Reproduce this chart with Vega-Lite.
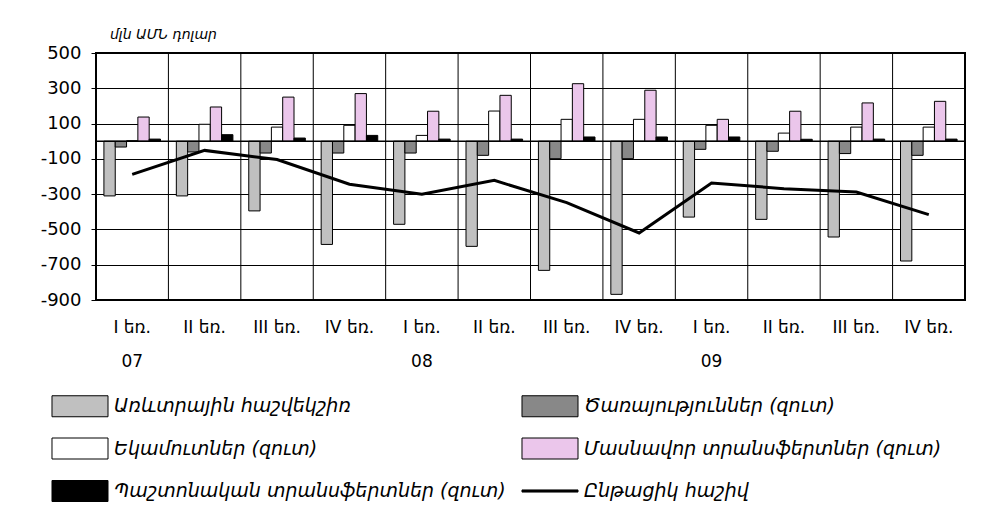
{
  "$schema": "https://vega.github.io/schema/vega-lite/v6.json",
  "width": 869,
  "height": 247,
  "padding": {"left": 40, "top": 28, "right": 20, "bottom": 0},
  "background": "white",
  "title": {
    "text": "մլն ԱՄՆ դոլար",
    "anchor": "start",
    "frame": "group",
    "dx": 14,
    "offset": 2,
    "font": "DejaVu Sans",
    "fontSize": 14,
    "fontStyle": "italic",
    "fontWeight": "normal",
    "color": "black"
  },
  "datasets": {
    "bars": [
      {"q": "I եռ. 07", "series": "Առևտրային հաշվեկշիռ", "value": -310},
      {"q": "I եռ. 07", "series": "Ծառայություններ (զուտ)", "value": -33},
      {"q": "I եռ. 07", "series": "Եկամուտներ (զուտ)", "value": 3},
      {"q": "I եռ. 07", "series": "Մասնավոր տրանսֆերտներ (զուտ)", "value": 137},
      {"q": "I եռ. 07", "series": "Պաշտոնական տրանսֆերտներ (զուտ)", "value": 12},
      {"q": "II եռ. 07", "series": "Առևտրային հաշվեկշիռ", "value": -310},
      {"q": "II եռ. 07", "series": "Ծառայություններ (զուտ)", "value": -61},
      {"q": "II եռ. 07", "series": "Եկամուտներ (զուտ)", "value": 96},
      {"q": "II եռ. 07", "series": "Մասնավոր տրանսֆերտներ (զուտ)", "value": 194},
      {"q": "II եռ. 07", "series": "Պաշտոնական տրանսֆերտներ (զուտ)", "value": 37},
      {"q": "III եռ. 07", "series": "Առևտրային հաշվեկշիռ", "value": -395},
      {"q": "III եռ. 07", "series": "Ծառայություններ (զուտ)", "value": -67},
      {"q": "III եռ. 07", "series": "Եկամուտներ (զուտ)", "value": 80},
      {"q": "III եռ. 07", "series": "Մասնավոր տրանսֆերտներ (զուտ)", "value": 250},
      {"q": "III եռ. 07", "series": "Պաշտոնական տրանսֆերտներ (զուտ)", "value": 18},
      {"q": "IV եռ. 07", "series": "Առևտրային հաշվեկշիռ", "value": -585},
      {"q": "IV եռ. 07", "series": "Ծառայություններ (զուտ)", "value": -67},
      {"q": "IV եռ. 07", "series": "Եկամուտներ (զուտ)", "value": 90},
      {"q": "IV եռ. 07", "series": "Մասնավոր տրանսֆերտներ (զուտ)", "value": 270},
      {"q": "IV եռ. 07", "series": "Պաշտոնական տրանսֆերտներ (զուտ)", "value": 33},
      {"q": "I եռ. 08", "series": "Առևտրային հաշվեկշիռ", "value": -471},
      {"q": "I եռ. 08", "series": "Ծառայություններ (զուտ)", "value": -67},
      {"q": "I եռ. 08", "series": "Եկամուտներ (զուտ)", "value": 33},
      {"q": "I եռ. 08", "series": "Մասնավոր տրանսֆերտներ (զուտ)", "value": 170},
      {"q": "I եռ. 08", "series": "Պաշտոնական տրանսֆերտներ (զուտ)", "value": 12},
      {"q": "II եռ. 08", "series": "Առևտրային հաշվեկշիռ", "value": -596},
      {"q": "II եռ. 08", "series": "Ծառայություններ (զուտ)", "value": -80},
      {"q": "II եռ. 08", "series": "Եկամուտներ (զուտ)", "value": 171},
      {"q": "II եռ. 08", "series": "Մասնավոր տրանսֆերտներ (զուտ)", "value": 260},
      {"q": "II եռ. 08", "series": "Պաշտոնական տրանսֆերտներ (զուտ)", "value": 12},
      {"q": "III եռ. 08", "series": "Առևտրային հաշվեկշիռ", "value": -732},
      {"q": "III եռ. 08", "series": "Ծառայություններ (զուտ)", "value": -99},
      {"q": "III եռ. 08", "series": "Եկամուտներ (զուտ)", "value": 124},
      {"q": "III եռ. 08", "series": "Մասնավոր տրանսֆերտներ (զուտ)", "value": 326},
      {"q": "III եռ. 08", "series": "Պաշտոնական տրանսֆերտներ (զուտ)", "value": 24},
      {"q": "IV եռ. 08", "series": "Առևտրային հաշվեկշիռ", "value": -868},
      {"q": "IV եռ. 08", "series": "Ծառայություններ (զուտ)", "value": -99},
      {"q": "IV եռ. 08", "series": "Եկամուտներ (զուտ)", "value": 124},
      {"q": "IV եռ. 08", "series": "Մասնավոր տրանսֆերտներ (զուտ)", "value": 289},
      {"q": "IV եռ. 08", "series": "Պաշտոնական տրանսֆերտներ (զուտ)", "value": 24},
      {"q": "I եռ. 09", "series": "Առևտրային հաշվեկշիռ", "value": -430},
      {"q": "I եռ. 09", "series": "Ծառայություններ (զուտ)", "value": -46},
      {"q": "I եռ. 09", "series": "Եկամուտներ (զուտ)", "value": 90},
      {"q": "I եռ. 09", "series": "Մասնավոր տրանսֆերտներ (զուտ)", "value": 124},
      {"q": "I եռ. 09", "series": "Պաշտոնական տրանսֆերտներ (զուտ)", "value": 24},
      {"q": "II եռ. 09", "series": "Առևտրային հաշվեկշիռ", "value": -443},
      {"q": "II եռ. 09", "series": "Ծառայություններ (զուտ)", "value": -57},
      {"q": "II եռ. 09", "series": "Եկամուտներ (զուտ)", "value": 46},
      {"q": "II եռ. 09", "series": "Մասնավոր տրանսֆերտներ (զուտ)", "value": 170},
      {"q": "II եռ. 09", "series": "Պաշտոնական տրանսֆերտներ (զուտ)", "value": 11},
      {"q": "III եռ. 09", "series": "Առևտրային հաշվեկշիռ", "value": -543},
      {"q": "III եռ. 09", "series": "Ծառայություններ (զուտ)", "value": -70},
      {"q": "III եռ. 09", "series": "Եկամուտներ (զուտ)", "value": 80},
      {"q": "III եռ. 09", "series": "Մասնավոր տրանսֆերտներ (զուտ)", "value": 217},
      {"q": "III եռ. 09", "series": "Պաշտոնական տրանսֆերտներ (զուտ)", "value": 12},
      {"q": "IV եռ. 09", "series": "Առևտրային հաշվեկշիռ", "value": -679},
      {"q": "IV եռ. 09", "series": "Ծառայություններ (զուտ)", "value": -80},
      {"q": "IV եռ. 09", "series": "Եկամուտներ (զուտ)", "value": 80},
      {"q": "IV եռ. 09", "series": "Մասնավոր տրանսֆերտներ (զուտ)", "value": 226},
      {"q": "IV եռ. 09", "series": "Պաշտոնական տրանսֆերտներ (զուտ)", "value": 12}
    ],
    "line": [
      {"q": "I եռ. 07", "series": "Ընթացիկ հաշիվ", "value": -188},
      {"q": "II եռ. 07", "series": "Ընթացիկ հաշիվ", "value": -52},
      {"q": "III եռ. 07", "series": "Ընթացիկ հաշիվ", "value": -104},
      {"q": "IV եռ. 07", "series": "Ընթացիկ հաշիվ", "value": -244},
      {"q": "I եռ. 08", "series": "Ընթացիկ հաշիվ", "value": -301},
      {"q": "II եռ. 08", "series": "Ընթացիկ հաշիվ", "value": -222},
      {"q": "III եռ. 08", "series": "Ընթացիկ հաշիվ", "value": -348},
      {"q": "IV եռ. 08", "series": "Ընթացիկ հաշիվ", "value": -520},
      {"q": "I եռ. 09", "series": "Ընթացիկ հաշիվ", "value": -237},
      {"q": "II եռ. 09", "series": "Ընթացիկ հաշիվ", "value": -269},
      {"q": "III եռ. 09", "series": "Ընթացիկ հաշիվ", "value": -288},
      {"q": "IV եռ. 09", "series": "Ընթացիկ հաշիվ", "value": -416}
    ],
    "zero": [{"value": 0}]
  },
  "layer": [
    {
      "data": {"name": "bars"},
      "mark": {"type": "bar", "strokeWidth": 1},
      "encoding": {
        "x": {
          "field": "q",
          "type": "nominal",
          "sort": null,
          "title": null,
          "scale": {"paddingInner": 0, "paddingOuter": 0},
          "axis": {
            "domain": false,
            "ticks": false,
            "grid": false,
            "labelAngle": 0,
            "labelFont": "DejaVu Sans",
            "labelFontSize": 17,
            "labelColor": "black",
            "labelPadding": 27,
            "labelLineHeight": 34,
            "labelBaseline": "middle",
            "labelExpr": "test(/^I /, datum.value) ? [replace(datum.value, / \\d\\d$/, ''), slice(datum.value, -2)] : replace(datum.value, / \\d\\d$/, '')"
          }
        },
        "xOffset": {
          "field": "series",
          "type": "nominal",
          "sort": ["Առևտրային հաշվեկշիռ", "Ծառայություններ (զուտ)", "Եկամուտներ (զուտ)", "Մասնավոր տրանսֆերտներ (զուտ)", "Պաշտոնական տրանսֆերտներ (զուտ)"],
          "scale": {"paddingInner": 0, "paddingOuter": 0.7}
        },
        "y": {
          "field": "value",
          "type": "quantitative",
          "title": null,
          "scale": {"domain": [-900, 500], "nice": false, "zero": false},
          "axis": {
            "values": [-900, -700, -500, -300, -100, 100, 300, 500],
            "labelOverlap": false,
            "domainColor": "black",
            "tickSize": 5,
            "tickColor": "black",
            "grid": true,
            "gridColor": "black",
            "gridWidth": 1,
            "gridOpacity": 1,
            "labelFont": "DejaVu Sans",
            "labelFontSize": 18,
            "labelColor": "black",
            "labelPadding": 10,
            "labelExpr": "datum.value + ''"
          }
        },
        "fill": {
          "field": "series",
          "type": "nominal",
          "scale": {
            "domain": ["Առևտրային հաշվեկշիռ", "Ծառայություններ (զուտ)", "Եկամուտներ (զուտ)", "Մասնավոր տրանսֆերտներ (զուտ)", "Պաշտոնական տրանսֆերտներ (զուտ)", "Ընթացիկ հաշիվ"],
            "range": ["#c0c0c0", "#888888", "#ffffff", "#ebc6eb", "#000000", "#000000"]
          },
          "legend": {
            "title": null,
            "orient": "none",
            "legendX": -27,
            "legendY": 342,
            "direction": "horizontal",
            "columns": 2,
            "columnPadding": 13,
            "rowPadding": 16.5,
            "padding": 0,
            "symbolSize": 441,
            "symbolType": "M-2.667,-1H2.667V1H-2.667Z",
            "symbolStrokeWidth": 1,
            "symbolOpacity": 1,
            "labelOffset": 23,
            "labelFont": "DejaVu Sans",
            "labelFontSize": 19,
            "labelFontStyle": "italic",
            "labelColor": "black",
            "labelLimit": 600,
            "encode": {
              "symbols": {
                "update": {
                  "shape": {"signal": "datum.value === 'Ընթացիկ հաշիվ' ? 'M-2.667,-0.1H2.667V0.1H-2.667Z' : 'M-2.667,-1H2.667V1H-2.667Z'"}
                }
              }
            }
          }
        },
        "stroke": {
          "field": "series",
          "type": "nominal",
          "scale": {
            "domain": ["Առևտրային հաշվեկշիռ", "Ծառայություններ (զուտ)", "Եկամուտներ (զուտ)", "Մասնավոր տրանսֆերտներ (զուտ)", "Պաշտոնական տրանսֆերտներ (զուտ)", "Ընթացիկ հաշիվ"],
            "range": ["#000000", "#000000", "#000000", "#000000", "#000000", "#000000"]
          },
          "legend": {
            "title": null,
            "orient": "none",
            "legendX": -27,
            "legendY": 342,
            "direction": "horizontal",
            "columns": 2,
            "columnPadding": 13,
            "rowPadding": 16.5,
            "padding": 0,
            "symbolSize": 441,
            "symbolType": "M-2.667,-1H2.667V1H-2.667Z",
            "symbolStrokeWidth": 1,
            "symbolOpacity": 1,
            "labelOffset": 23,
            "labelFont": "DejaVu Sans",
            "labelFontSize": 19,
            "labelFontStyle": "italic",
            "labelColor": "black",
            "labelLimit": 600
          }
        }
      }
    },
    {
      "data": {"name": "line"},
      "mark": {"type": "rule", "color": "black", "strokeWidth": 1},
      "encoding": {
        "x": {"field": "q", "type": "nominal", "bandPosition": 0, "sort": null}
      }
    },
    {
      "data": {"name": "zero"},
      "mark": {"type": "rule", "color": "black", "strokeWidth": 1.5},
      "encoding": {
        "y": {
          "field": "value",
          "type": "quantitative",
          "axis": {
            "values": [-900, -700, -500, -300, -100, 100, 300, 500],
            "labelOverlap": false,
            "labelFont": "DejaVu Sans",
            "labelFontSize": 18,
            "labelPadding": 10,
            "labelExpr": "datum.value + ''"
          }
        }
      }
    },
    {
      "data": {"name": "line"},
      "mark": {"type": "line", "strokeWidth": 3},
      "encoding": {
        "x": {"field": "q", "type": "nominal", "sort": null},
        "y": {
          "field": "value",
          "type": "quantitative",
          "axis": {
            "values": [-900, -700, -500, -300, -100, 100, 300, 500],
            "labelOverlap": false,
            "labelFont": "DejaVu Sans",
            "labelFontSize": 18,
            "labelPadding": 10,
            "labelExpr": "datum.value + ''"
          }
        },
        "stroke": {"field": "series", "type": "nominal", "legend": null}
      }
    }
  ],
  "config": {
    "view": {"stroke": "black", "strokeWidth": 2},
    "axis": {"labelOverlap": false},
    "axisY": {"labelOverlap": false}
  }
}
